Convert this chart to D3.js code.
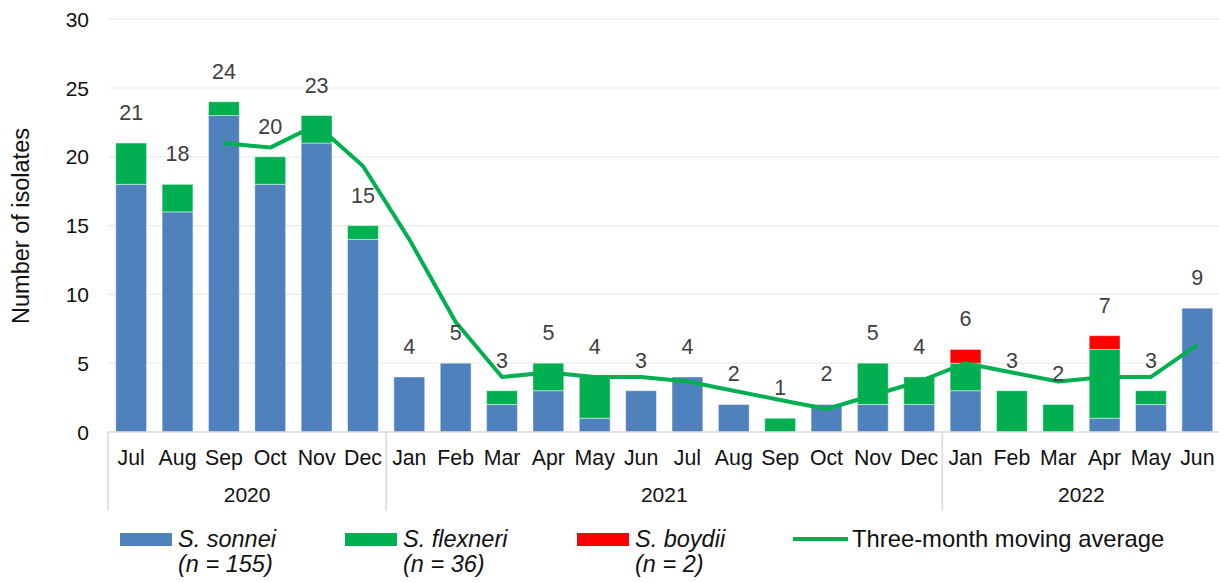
<!DOCTYPE html>
<html>
<head>
<meta charset="utf-8">
<script src="https://cdn.jsdelivr.net/npm/d3@7"></script>
<style>
  html, body { margin: 0; padding: 0; background: #ffffff; }
  svg { display: block; font-family: "Liberation Sans", Arial, sans-serif; }
</style>
</head>
<body>
<svg id="chart" width="1219" height="582"></svg>
<script>
// ---- Data ----
const months = ["Jul","Aug","Sep","Oct","Nov","Dec",
                "Jan","Feb","Mar","Apr","May","Jun","Jul","Aug","Sep","Oct","Nov","Dec",
                "Jan","Feb","Mar","Apr","May","Jun"];
const years = [
  { label: "2020", start: 0, end: 6 },
  { label: "2021", start: 6, end: 18 },
  { label: "2022", start: 18, end: 24 }
];
const sonnei   = [18,16,23,18,21,14, 4,5,2,3,1,3,4,2,0,2,2,2, 3,0,0,1,2,9];
const flexneri = [ 3, 2, 1, 2, 2, 1, 0,0,1,2,3,0,0,0,1,0,3,2, 2,3,2,5,1,0];
const boydii   = [ 0, 0, 0, 0, 0, 0, 0,0,0,0,0,0,0,0,0,0,0,0, 1,0,0,1,0,0];
const totals   = [21,18,24,20,23,15, 4,5,3,5,4,3,4,2,1,2,5,4, 6,3,2,7,3,9];
const movingAvg = [null,null,21,20.67,22.33,19.33, 14,8,4,4.33,4,4,3.67,3,2.33,1.67,2.67,3.67,
                   5,4.33,3.67,4,4,6.33];
const yTicks = [0,5,10,15,20,25,30];
const seriesNames = ["S. sonnei","S. flexneri","S. boydii"];
const seriesCounts = ["(n = 155)","(n = 36)","(n = 2)"];
const lineName = "Three-month moving average";
const colors = { sonnei: "#4f81bd", flexneri: "#00b050", boydii: "#ff0000" };

// ---- Setup ----
const svg = d3.select("#chart");
const idx = d3.range(months.length);

const x = d3.scaleBand().domain(idx).range([108, 1220.5]).paddingInner(0.335).paddingOuter(0.1675);
const y = d3.scaleLinear().domain([0, 30]).range([432, 19.2]);

// gridlines
svg.append("g").selectAll("line").data(yTicks.filter(d => d > 0)).join("line")
  .attr("x1", 108).attr("x2", 1219)
  .attr("y1", d => y(d)).attr("y2", d => y(d))
  .attr("stroke", "#ebebe6").attr("stroke-width", 1.2);

// y tick labels
svg.append("g").selectAll("text").data(yTicks).join("text")
  .attr("x", 89).attr("y", d => y(d)).attr("dy", "0.36em")
  .attr("text-anchor", "end").attr("font-size", 21).attr("fill", "#111")
  .text(d => d);

// y title
svg.append("text")
  .attr("transform", "translate(29,226) rotate(-90)")
  .attr("text-anchor", "middle").attr("font-size", 23.5).attr("fill", "#111")
  .text("Number of isolates");

// stacked bars
const stackData = idx.map(i => ({ i, sonnei: sonnei[i], flexneri: flexneri[i], boydii: boydii[i] }));
const stack = d3.stack().keys(["sonnei","flexneri","boydii"])(stackData);
svg.append("g").selectAll("g").data(stack).join("g")
  .attr("fill", s => colors[s.key])
  .selectAll("rect").data(s => s.filter(d => d[1] > d[0])).join("rect")
  .attr("x", d => x(d.data.i)).attr("width", x.bandwidth())
  .attr("y", d => y(d[1])).attr("height", d => y(d[0]) - y(d[1]))
  .attr("stroke", "#ffffff").attr("stroke-opacity", 0.45).attr("stroke-width", 1);

// x axis line
svg.append("line").attr("x1", 108).attr("x2", 1219).attr("y1", y(0)).attr("y2", y(0))
  .attr("stroke", "#d9d9d9").attr("stroke-width", 1.5);

// group separators
const sepX = [0, 6, 18].map(i => x.step() * i + 108);
svg.append("g").selectAll("line").data(sepX).join("line")
  .attr("x1", d => d).attr("x2", d => d).attr("y1", y(0)).attr("y2", 511)
  .attr("stroke", "#d9d9d9").attr("stroke-width", 1.5);

// month labels
svg.append("g").selectAll("text").data(idx).join("text")
  .attr("x", i => x(i) + x.bandwidth() / 2).attr("y", 465)
  .attr("text-anchor", "middle").attr("font-size", 21.3).attr("fill", "#111")
  .text(i => months[i]);

// year labels
svg.append("g").selectAll("text").data(years).join("text")
  .attr("x", d => (108 + x.step() * d.start + 108 + x.step() * d.end) / 2).attr("y", 502)
  .attr("text-anchor", "middle").attr("font-size", 21).attr("fill", "#111")
  .text(d => d.label);

// moving average line
const line = d3.line()
  .defined(d => d != null)
  .x((d, i) => x(i) + x.bandwidth() / 2)
  .y(d => y(d));
svg.append("path").datum(movingAvg)
  .attr("d", line).attr("fill", "none")
  .attr("stroke", "#00b050").attr("stroke-width", 4).attr("stroke-linejoin", "round");

// total labels
svg.append("g").selectAll("text").data(idx).join("text")
  .attr("x", i => x(i) + x.bandwidth() / 2).attr("y", i => y(totals[i]) - 23)
  .attr("text-anchor", "middle").attr("font-size", 21.5).attr("fill", "#404040")
  .text(i => totals[i]);

// legend
const legendItems = [
  { key: "sonnei", x: 120 },
  { key: "flexneri", x: 345 },
  { key: "boydii", x: 577 }
];
const lg = svg.append("g");
legendItems.forEach((it, k) => {
  lg.append("rect").attr("x", it.x).attr("y", 533).attr("width", 52).attr("height", 13)
    .attr("fill", colors[it.key]);
  lg.append("text").attr("x", it.x + 58).attr("y", 547)
    .attr("font-size", 23.5).attr("font-style", "italic").attr("fill", "#111")
    .text(seriesNames[k]);
  lg.append("text").attr("x", it.x + 58).attr("y", 572)
    .attr("font-size", 23.5).attr("font-style", "italic").attr("fill", "#111")
    .text(seriesCounts[k]);
});
lg.append("line").attr("x1", 793).attr("x2", 848).attr("y1", 539).attr("y2", 539)
  .attr("stroke", "#00b050").attr("stroke-width", 4);
lg.append("text").attr("x", 852).attr("y", 547)
  .attr("font-size", 23.8).attr("fill", "#111").text(lineName);
</script>
</body>
</html>
